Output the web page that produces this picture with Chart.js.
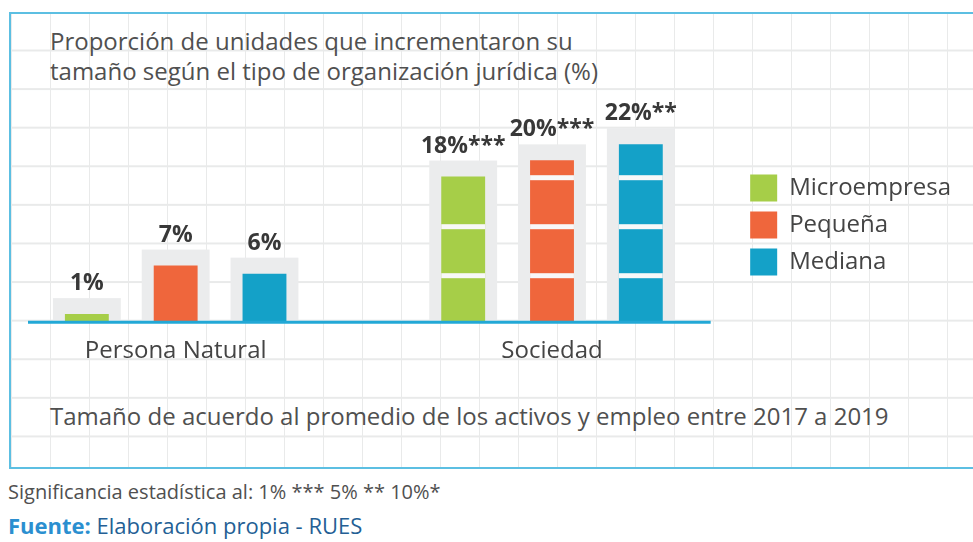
<!DOCTYPE html>
<html>
<head>
<meta charset="utf-8">
<script src="https://cdn.jsdelivr.net/npm/chart.js@4.4.1/dist/chart.umd.min.js"></script>
<style>
  html, body { margin: 0; padding: 0; background: #fff; }
  body { width: 973px; height: 542px; position: relative; overflow: hidden; font-family: "Open Sans", sans-serif; }
  .frame {
    position: absolute; left: 9px; top: 12px; width: 1000px; height: 453px;
    border: 2.5px solid #5cbfe2; border-right: none;
    background-image:
      linear-gradient(to right, #e9eaea 1.5px, transparent 1.5px),
      linear-gradient(to bottom, #e9eaea 1.5px, transparent 1.5px);
    background-size: 39px 100%, 100% 38.6px;
    background-position: 0 0, 0 35.5px;
  }
  .txt { position: absolute; white-space: nowrap; color: #505050; }
  #title { left: 50px; top: 26px; font-size: 24px; line-height: 30px; }
  #note { left: 50px; top: 401px; font-size: 24px; line-height: 30px; }
  #sig { left: 8px; top: 480px; font-size: 20px; line-height: 24px; }
  #src { left: 8px; top: 513px; font-size: 22px; line-height: 24px; color: #245f95; }
  #src b { color: #2b8fd0; }
  canvas { position: absolute; left: -40px; top: 0; }
</style>
</head>
<body>
<div class="frame"></div>
<div class="txt" id="title">Proporción de unidades que incrementaron su<br>tamaño según el tipo de organización jurídica (%)</div>
<div class="txt" id="note">Tamaño de acuerdo al promedio de los activos y empleo entre 2017 a 2019</div>
<div class="txt" id="sig">Significancia estadística al: 1% *** 5% ** 10%*</div>
<div class="txt" id="src"><b>Fuente:</b> Elaboración propia - RUES</div>
<canvas id="chart" width="1013" height="542"></canvas>
<script>
// categorias y series
const categories = ['Persona Natural', 'Sociedad'];
const seriesNames = ['Microempresa', 'Pequeña', 'Mediana'];
const microempresa = [1, 18];
const pequena = [7, 20];
const mediana = [6, 22];
// etiquetas con significancia
const microLabels = ['1%', '18%***'];
const pequenaLabels = ['7%', '20%***'];
const medianaLabels = ['6%', '22%**'];

const colors = ['#a6ce48', '#ef663c', '#14a1c8'];
const valueLabels = [microLabels, pequenaLabels, medianaLabels];

const barDeco = {
    id: 'barDeco',
    beforeDatasetsDraw(chart) {
        const ctx = chart.ctx;
        const base = chart.scales.y.getPixelForValue(0);
        ctx.save();
        ctx.fillStyle = '#ebeced';
        chart.data.datasets.forEach((ds, i) => {
            chart.getDatasetMeta(i).data.forEach(bar => {
                ctx.fillRect(bar.x - bar.width / 2 - 12, bar.y - 16, bar.width + 24, base - bar.y + 16);
            });
        });
        ctx.restore();
    },
    afterDatasetsDraw(chart) {
        const ctx = chart.ctx;
        const area = chart.chartArea;
        const base = chart.scales.y.getPixelForValue(0);
        ctx.save();
        // white gaps that split bars into blocks
        ctx.fillStyle = '#f8f8f8';
        chart.data.datasets.forEach((ds, i) => {
            chart.getDatasetMeta(i).data.forEach(bar => {
                for (let k = 1; k < 10; k++) {
                    const gapTop = base - 49 * k;
                    if (gapTop < bar.y + 14) break;
                    ctx.fillRect(bar.x - bar.width / 2, gapTop, bar.width, 5);
                }
            });
        });
        // baseline
        ctx.strokeStyle = '#22a8d6';
        ctx.lineWidth = 3;
        ctx.beginPath();
        ctx.moveTo(area.left + 40.5, base);
        ctx.lineTo(area.right - 29.5, base);
        ctx.stroke();
        // value labels
        ctx.fillStyle = '#383838';
        ctx.font = 'bold 23px "Open Sans"';
        ctx.textAlign = 'center';
        ctx.textBaseline = 'alphabetic';
        chart.data.datasets.forEach((ds, i) => {
            chart.getDatasetMeta(i).data.forEach((bar, j) => {
                ctx.fillText(valueLabels[i][j], bar.x, bar.y - 24);
            });
        });
        ctx.restore();
    }
};

const ctx = document.getElementById('chart').getContext('2d');
const myChart = new Chart(ctx, {
    type: 'bar',
    data: {
        labels: categories,
        datasets: [
            { label: seriesNames[0], data: microempresa, backgroundColor: colors[0], borderWidth: 0 },
            { label: seriesNames[1], data: pequena, backgroundColor: colors[1], borderWidth: 0 },
            { label: seriesNames[2], data: mediana, backgroundColor: colors[2], borderWidth: 0 }
        ]
    },
    options: {
        responsive: false,
        animation: false,
        devicePixelRatio: 1,
        categoryPercentage: 0.708,
        barPercentage: 0.494,
        layout: {
            padding: { top: 128, right: 12, bottom: 161, left: 27.5 }
        },
        scales: {
            x: {
                grid: { display: false, drawTicks: false },
                border: { display: false },
                ticks: {
                    padding: 15,
                    color: '#444',
                    font: { family: 'Open Sans', size: 24 }
                }
            },
            y: {
                display: false,
                min: 0,
                max: 24
            }
        },
        plugins: {
            tooltip: { enabled: false },
            legend: {
                position: 'right',
                fullSize: false,
                align: 'center',
                labels: {
                    boxWidth: 27,
                    boxHeight: 27,
                    padding: 10,
                    color: '#444',
                    font: { family: 'Open Sans', size: 24 }
                }
            }
        }
    },
    plugins: [barDeco]
});
</script>
</body>
</html>
